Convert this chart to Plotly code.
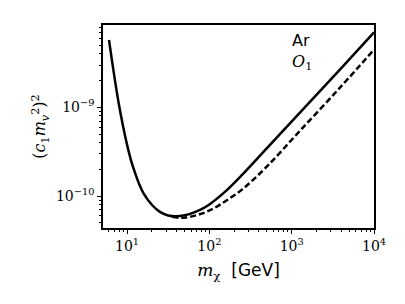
import plotly.graph_objects as go

# Solid curve (Ar, O1)
solid_x = [6.04, 6.61, 7.24, 7.94, 8.91, 10.0, 11.2, 12.6, 14.1, 15.8, 20.0, 25.1, 31.6, 39.8,
           50.1, 63.1, 79.4, 100, 158, 251, 501, 1259, 3981, 10000]
solid_y = [5.74e-9, 3.21e-9, 1.84e-9, 1.10e-9, 6.24e-10, 3.80e-10, 2.51e-10, 1.79e-10, 1.35e-10, 1.08e-10,
           7.98e-11, 6.64e-11, 6.05e-11, 5.92e-11, 6.08e-11, 6.47e-11, 7.08e-11, 8.04e-11, 1.135e-10,
           1.74e-10, 3.47e-10, 8.71e-10, 2.75e-9, 7.0e-9]

# Dashed curve
dash_x = [35.5, 44.7, 56.2, 70.8, 89.1, 112, 158, 251, 501, 1259, 3981, 10000]
dash_y = [5.86e-11, 5.69e-11, 5.82e-11, 6.10e-11, 6.56e-11, 7.23e-11, 8.81e-11, 1.19e-10, 2.16e-10,
          5.43e-10, 1.72e-9, 4.47e-9]

x_ticks = [10, 100, 1000, 10000]
x_ticklabels = ["10<sup>1</sup>", "10<sup>2</sup>", "10<sup>3</sup>", "10<sup>4</sup>"]
y_ticks = [1e-10, 1e-9]
y_ticklabels = ["10<sup>\u221210</sup>", "10<sup>\u22129</sup>"]

x_minor = [m * 10 ** e for e in range(0, 4) for m in range(2, 10)]
y_minor = [m * 10 ** e for e in (-11, -10, -9) for m in range(2, 10)]

serif = "DejaVu Serif"
sans = "DejaVu Sans"

fig = go.Figure()
fig.add_trace(go.Scatter(x=solid_x, y=solid_y, mode="lines",
                         line=dict(color="black", width=2.5, shape="spline", smoothing=1.0)))
fig.add_trace(go.Scatter(x=dash_x, y=dash_y, mode="lines",
                         line=dict(color="black", width=2.5, dash="6px,3px", shape="spline", smoothing=1.0)))

fig.add_annotation(x=0.69, y=0.925, xref="paper", yref="paper", text="Ar", showarrow=False,
                   xanchor="left", yanchor="middle", font=dict(family=sans, size=16, color="black"))
fig.add_annotation(x=0.69, y=0.815, xref="paper", yref="paper", text="<i>O</i><sub>1</sub>", showarrow=False,
                   xanchor="left", yanchor="middle", font=dict(family=serif, size=16, color="black"))

fig.update_layout(
    width=397, height=296,
    margin=dict(l=95, r=31, t=17, b=76),
    paper_bgcolor="white", plot_bgcolor="white",
    showlegend=False,
    xaxis=dict(type="log", range=[0.708, 4.0], tickvals=x_ticks, ticktext=x_ticklabels,
               ticks="outside", ticklen=4, tickwidth=1, tickcolor="black",
               showline=True, linecolor="black", linewidth=1.5, mirror=True, showgrid=False, zeroline=False,
               tickfont=dict(family=serif, size=14, color="black"),
               minor=dict(tickvals=x_minor, ticks="outside", ticklen=2.5, tickcolor="black", showgrid=False),
               title=dict(text="<i>m</i><sub>\u03c7</sub>  <span style='font-family:DejaVu Sans'>[GeV]</span>",
                          font=dict(family=serif, size=17, color="black"), standoff=12)),
    yaxis=dict(type="log", range=[-10.36, -8.072], tickvals=y_ticks, ticktext=y_ticklabels,
               ticks="outside", ticklen=4, tickwidth=1, tickcolor="black",
               showline=True, linecolor="black", linewidth=1.5, mirror=True, showgrid=False, zeroline=False,
               tickfont=dict(family=serif, size=14, color="black"),
               minor=dict(tickvals=y_minor, ticks="outside", ticklen=2.5, tickcolor="black", showgrid=False),
               title=dict(text="(<i>c</i><sub>1</sub><i>m</i><sub><i>v</i></sub><sup>2</sup>)<sup>2</sup>",
                          font=dict(family=serif, size=16, color="black"), standoff=6)),
)

fig.write_html("out.html")
